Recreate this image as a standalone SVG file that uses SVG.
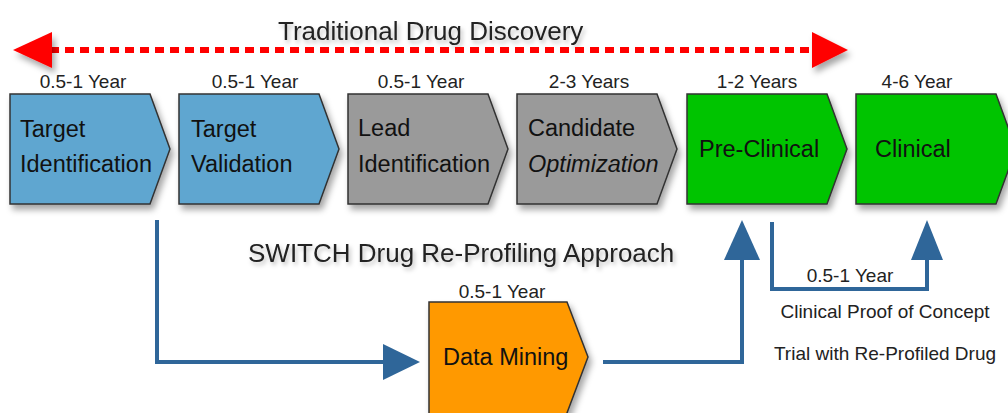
<svg xmlns="http://www.w3.org/2000/svg" width="1008" height="413" viewBox="0 0 1008 413">
<style>
.box{stroke:#333;stroke-width:1.5}
.blue{fill:#5FA6D0}
.gray{fill:#9A9A9A}
.green{fill:#00C400}
.orange{fill:#FF9900}
.lbl{font-family:"Liberation Sans",Arial,sans-serif;font-size:23.5px;fill:#111}
.yr{font-family:"Liberation Sans",Arial,sans-serif;font-size:19px;fill:#222;text-anchor:middle}
.head{font-family:"Liberation Sans",Arial,sans-serif;font-size:26px;fill:#222}
.note{font-family:"Liberation Sans",Arial,sans-serif;font-size:19px;fill:#222;text-anchor:middle}
.conn{fill:none;stroke:#2F6699;stroke-width:4}
.ah{fill:#2F6699}
</style>
<defs>
<filter id="sh" x="-10%" y="-10%" width="130%" height="140%">
<feDropShadow dx="3" dy="5" stdDeviation="3" flood-color="#000" flood-opacity="0.35"/>
</filter>
<filter id="tsh" x="-5%" y="-20%" width="110%" height="160%">
<feDropShadow dx="2" dy="3" stdDeviation="2" flood-color="#000" flood-opacity="0.25"/>
</filter>
</defs>
<rect width="1008" height="413" fill="#fff"/>

<g id="traditional-header">
<text class="head" x="278" y="40" font-size="26.7" filter="url(#tsh)">Traditional Drug Discovery</text>
<line x1="50" y1="50" x2="814" y2="50" stroke="#FF0000" stroke-width="6" stroke-dasharray="9,6"/>
<polygon points="13,50 52,32 52,68" fill="#FF0000" filter="url(#sh)"/>
<polygon points="848,50 812,32 812,68" fill="#FF0000" filter="url(#sh)"/>
</g>

<g id="connectors">
<polyline class="conn" points="157,220 157,362 385,362"/>
<polygon class="ah" points="420,362 383,344 383,380"/>
<polyline class="conn" points="603,362 742,362 742,258"/>
<polygon class="ah" points="742,220 724,260 760,260"/>
<polyline class="conn" points="772,222 772,289 927,289 927,258"/>
<polygon class="ah" points="927,220 911,260 943,260"/>
</g>

<g id="target-identification">
<text class="yr" x="83" y="88">0.5-1 Year</text>
<polygon class="box blue" filter="url(#sh)" points="10,94 150,94 170,149 150,204 10,204"/>
<text class="lbl" x="20" y="137">Target</text>
<text class="lbl" x="20" y="172">Identification</text>
</g>

<g id="target-validation">
<text class="yr" x="255" y="88">0.5-1 Year</text>
<polygon class="box blue" filter="url(#sh)" points="179,94 319,94 339,149 319,204 179,204"/>
<text class="lbl" x="191" y="137">Target</text>
<text class="lbl" x="191" y="172">Validation</text>
</g>

<g id="lead-identification">
<text class="yr" x="421" y="88">0.5-1 Year</text>
<polygon class="box gray" filter="url(#sh)" points="348,94 488,94 508,149 488,204 348,204"/>
<text class="lbl" x="358" y="136">Lead</text>
<text class="lbl" x="358" y="172">Identification</text>
</g>

<g id="candidate-optimization">
<text class="yr" x="589" y="88">2-3 Years</text>
<polygon class="box gray" filter="url(#sh)" points="517,94 657,94 677,149 657,204 517,204"/>
<text class="lbl" x="528" y="136">Candidate</text>
<text class="lbl" x="528" y="172" font-style="italic">Optimization</text>
</g>

<g id="pre-clinical">
<text class="yr" x="757" y="88">1-2 Years</text>
<polygon class="box green" filter="url(#sh)" points="687,94 827,94 847,149 827,204 687,204"/>
<text class="lbl" x="699" y="157">Pre-Clinical</text>
</g>

<g id="clinical">
<text class="yr" x="917" y="88">4-6 Year</text>
<polygon class="box green" filter="url(#sh)" points="856,94 996,94 1016,149 996,204 856,204"/>
<text class="lbl" x="875" y="157">Clinical</text>
</g>

<g id="switch-header">
<text class="head" x="248" y="262" filter="url(#tsh)">SWITCH Drug Re-Profiling Approach</text>
</g>

<g id="data-mining">
<text class="yr" x="502" y="298">0.5-1 Year</text>
<polygon class="box orange" filter="url(#sh)" points="429,302 567,302 588,357 567,413 567,420 429,420"/>
<text class="lbl" x="443" y="365">Data Mining</text>
</g>

<g id="clinical-poc">
<text class="yr" x="850" y="282">0.5-1 Year</text>
<text class="note" x="885" y="318">Clinical Proof of Concept</text>
<text class="note" x="885" y="360">Trial with Re-Profiled Drug</text>
</g>
</svg>
